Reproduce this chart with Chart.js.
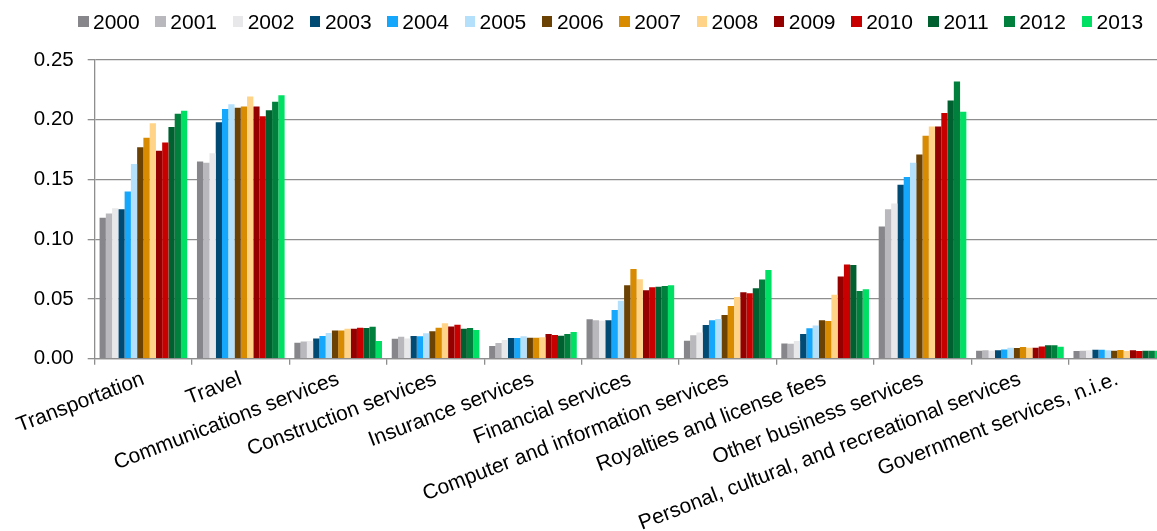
<!DOCTYPE html>
<html>
<head>
<meta charset="utf-8">
<title>Services by category, 2000-2013</title>
<script src="https://cdn.jsdelivr.net/npm/chart.js@4.4.0/dist/chart.umd.min.js"></script>
<style>
  html, body { margin:0; padding:0; background:#fff; overflow:hidden; }
  #wrap { position:relative; width:1166px; height:531px; }
  #legend { position:absolute; left:78px; top:10px; display:flex;
            font:21px 'Liberation Sans', Arial, sans-serif; color:#000; line-height:23px; }
  .lg-item { display:flex; align-items:center; margin-right:15.6px; }
  .lg-box  { width:10.5px; height:10.5px; margin-right:4.5px; }
</style>
</head>
<body>
<div id="wrap">
  <div id="legend"></div>
  <canvas id="chart" width="1166" height="531"></canvas>
</div>
<script>
'use strict';

const CATEGORIES = [
  'Transportation', 'Travel', 'Communications services', 'Construction services',
  'Insurance services', 'Financial services', 'Computer and information services',
  'Royalties and license fees', 'Other business services',
  'Personal, cultural, and recreational services', 'Government services, n.i.e.'
];

const YEARS = ['2000','2001','2002','2003','2004','2005','2006',
               '2007','2008','2009','2010','2011','2012','2013'];

const COLOURS = ['#87868b','#b9b9bd','#e8e8ea','#004a74','#14a7fb','#b4e0fc','#6b4204',
                 '#d88a00','#ffd488','#940000','#c80000','#006030','#00803c','#00e064'];

// shares per category, one value per year 2000..2013
const transportation = [0.118,0.1215,0.126,0.125,0.140,0.163,0.177,0.185,0.197,0.174,0.181,0.194,0.205,0.2075];
const travel         = [0.165,0.164,0.172,0.198,0.209,0.213,0.210,0.211,0.2195,0.211,0.203,0.208,0.215,0.2205];
const communications = [0.0134,0.0145,0.0148,0.017,0.019,0.0215,0.0237,0.0237,0.025,0.025,0.026,0.0257,0.0268,0.0148];
const construction   = [0.0168,0.0184,0.017,0.019,0.0187,0.0212,0.0229,0.026,0.0296,0.027,0.0285,0.025,0.0257,0.024];
const insurance      = [0.0106,0.0131,0.0156,0.0173,0.0173,0.0187,0.0176,0.0176,0.018,0.0207,0.0198,0.0193,0.0207,0.0223];
const financial      = [0.033,0.0321,0.0318,0.0321,0.0408,0.0486,0.0615,0.0751,0.0665,0.0573,0.0598,0.0603,0.0609,0.0615];
const computerInfo   = [0.0151,0.0196,0.022,0.0282,0.0321,0.0332,0.0366,0.0441,0.0517,0.0556,0.0547,0.0589,0.0662,0.0743];
const royalties      = [0.0128,0.0126,0.0148,0.0207,0.0254,0.0277,0.0321,0.0316,0.0536,0.0687,0.0788,0.0785,0.0567,0.0581];
const otherBusiness  = [0.1106,0.125,0.130,0.1455,0.152,0.164,0.171,0.1866,0.1944,0.1944,0.2056,0.216,0.232,0.2067];
const personal       = [0.0067,0.007,0.0067,0.007,0.0078,0.0092,0.0089,0.0098,0.0092,0.0092,0.0103,0.0112,0.0112,0.010];
const government     = [0.0064,0.0067,0.007,0.0075,0.0075,0.007,0.0067,0.0073,0.0064,0.007,0.0064,0.0067,0.0067,0.0067];

const BY_CATEGORY = [transportation, travel, communications, construction, insurance, financial,
                     computerInfo, royalties, otherBusiness, personal, government];

const Y_TICKS = [0, 0.05, 0.10, 0.15, 0.20, 0.25];

const FONT = "'Liberation Sans', Arial, sans-serif";
const AXIS = '#8e8e8e';

// legend row
const legendEl = document.getElementById('legend');
YEARS.forEach((y, i) => {
  const item = document.createElement('div');
  item.className = 'lg-item';
  item.innerHTML = `<span class="lg-box" style="background:${COLOURS[i]}"></span><span>${y}</span>`;
  legendEl.appendChild(item);
});

// one dataset per year, read across the category arrays
const datasets = YEARS.map((y, i) => ({
  label: y,
  data: BY_CATEGORY.map(row => row[i]),
  backgroundColor: COLOURS[i],
  borderWidth: 0,
  categoryPercentage: 0.9,
  barPercentage: 1.0,
}));

new Chart(document.getElementById('chart'), {
  type: 'bar',
  data: { labels: CATEGORIES, datasets },
  options: {
    responsive: false,
    animation: false,
    layout: { padding: { top: 60, right: 0, bottom: 0, left: 0 } },
    plugins: { legend: { display: false }, tooltip: { enabled: false } },
    scales: {
      x: {
        offset: true,
        grid: { drawOnChartArea: false, drawTicks: true, tickLength: 6, color: AXIS, lineWidth: 1.3, offset: true },
        border: { color: AXIS, width: 1.3 },
        ticks: { color: '#000', font: { family: FONT, size: 21 }, maxRotation: 21, minRotation: 21,
                 autoSkip: false, padding: 2 },
        afterFit: s => { s.height = 531 - 358.7; },
      },
      y: {
        min: 0, max: 0.25,
        afterBuildTicks: s => { s.ticks = Y_TICKS.map(v => ({ value: v })); },
        ticks: { color: '#000', font: { family: FONT, size: 20.5 }, padding: 14,
                 callback: v => v.toFixed(2) },
        grid: { color: AXIS, lineWidth: 1.3, tickLength: 7 },
        border: { color: AXIS, width: 1.3 },
        afterFit: s => { s.width = 94.7; },
      },
    },
  },
});
</script>
</body>
</html>
